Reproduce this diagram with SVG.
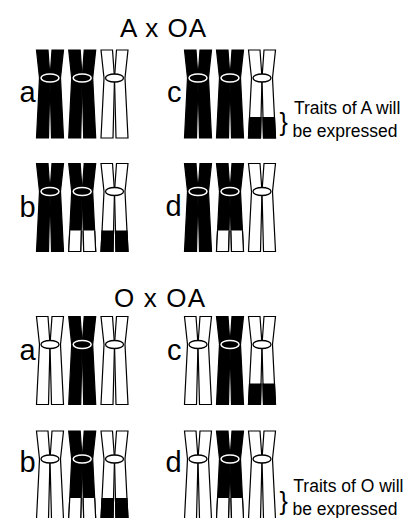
<svg xmlns="http://www.w3.org/2000/svg" xmlns:xlink="http://www.w3.org/1999/xlink" width="407" height="518" viewBox="0 0 407 518">
  <style>
    .k { fill: #000; stroke: #000; stroke-width: 1.2; stroke-linejoin: miter; }
    .w { fill: #fff; stroke: #000; stroke-width: 1.2; stroke-linejoin: miter; }
    .ek { fill: #000; stroke: #fff; stroke-width: 1.5; }
    .ew { fill: #fff; stroke: #000; stroke-width: 1.3; }
    .title { font-family: "Liberation Sans", Arial, sans-serif; font-size: 26px; fill: #000; }
    .lbl { font-family: "Liberation Sans", Arial, sans-serif; font-size: 29px; fill: #000; }
    .note { font-family: "Liberation Sans", Arial, sans-serif; font-size: 17.5px; fill: #000; }
    .brace { font-family: "Liberation Sans", Arial, sans-serif; font-size: 25px; fill: #000; }
  </style>
  <defs>
    <!-- one chromatid of each side; chromosome is 27 wide, 88 tall, centromere at y=28 -->
    <path id="ctL" d="M0,0 H11.5 L13.5,28 L12,88 H0 L3,28 Z"/>
    <path id="ctR" d="M15.5,0 H27 L24,28 L27,88 H15 L13.5,28 Z"/>
    <!-- lower band of the chromatids (differently coloured tip) -->
    <clipPath id="low"><rect x="-3" y="67" width="33" height="25"/></clipPath>
  </defs>

  <rect width="407" height="518" fill="#fff"/>

  <!-- ===== A x OA ===== -->
  <text class="title" x="120" y="37.3" textLength="86" lengthAdjust="spacing">A x OA</text>

  <g id="cross-a-a">
    <text class="lbl" x="19.5" y="101.7">a</text>
    <g transform="translate(36.5,50)"><use xlink:href="#ctL" class="k"/><use xlink:href="#ctR" class="k"/><ellipse cx="13.5" cy="28" rx="9" ry="4" class="ek"/></g>
    <g transform="translate(68.7,50)"><use xlink:href="#ctL" class="k"/><use xlink:href="#ctR" class="k"/><ellipse cx="13.5" cy="28" rx="9" ry="4" class="ek"/></g>
    <g transform="translate(101,50)"><use xlink:href="#ctL" class="w"/><use xlink:href="#ctR" class="w"/><ellipse cx="13.5" cy="28" rx="9" ry="4" class="ew"/></g>
  </g>

  <g id="cross-a-c">
    <text class="lbl" x="167" y="101.7">c</text>
    <g transform="translate(184.5,50)"><use xlink:href="#ctL" class="k"/><use xlink:href="#ctR" class="k"/><ellipse cx="13.5" cy="28" rx="9" ry="4" class="ek"/></g>
    <g transform="translate(216.5,50)"><use xlink:href="#ctL" class="k"/><use xlink:href="#ctR" class="k"/><ellipse cx="13.5" cy="28" rx="9" ry="4" class="ek"/></g>
    <g transform="translate(248.5,50)"><use xlink:href="#ctL" class="w"/><use xlink:href="#ctR" class="w"/><use xlink:href="#ctL" class="k" clip-path="url(#low)"/><use xlink:href="#ctR" class="k" clip-path="url(#low)"/><ellipse cx="13.5" cy="28" rx="9" ry="4" class="ew"/></g>
  </g>

  <g id="note-a">
    <text class="brace" x="279.5" y="130.5">}</text>
    <text class="note" x="294" y="114">Traits of A will</text>
    <text class="note" x="292.5" y="136.5">be expressed</text>
  </g>

  <g id="cross-a-b">
    <text class="lbl" x="19.5" y="216.5">b</text>
    <g transform="translate(36.5,163.5)"><use xlink:href="#ctL" class="k"/><use xlink:href="#ctR" class="k"/><ellipse cx="13.5" cy="28" rx="9" ry="4" class="ek"/></g>
    <g transform="translate(68.7,163.5)"><use xlink:href="#ctL" class="k"/><use xlink:href="#ctR" class="k"/><use xlink:href="#ctL" class="w" clip-path="url(#low)"/><use xlink:href="#ctR" class="w" clip-path="url(#low)"/><ellipse cx="13.5" cy="28" rx="9" ry="4" class="ek"/></g>
    <g transform="translate(101,163.5)"><use xlink:href="#ctL" class="w"/><use xlink:href="#ctR" class="w"/><use xlink:href="#ctL" class="k" clip-path="url(#low)"/><use xlink:href="#ctR" class="k" clip-path="url(#low)"/><ellipse cx="13.5" cy="28" rx="9" ry="4" class="ew"/></g>
  </g>

  <g id="cross-a-d">
    <text class="lbl" x="165.5" y="215.5">d</text>
    <g transform="translate(184.5,163.5)"><use xlink:href="#ctL" class="k"/><use xlink:href="#ctR" class="k"/><ellipse cx="13.5" cy="28" rx="9" ry="4" class="ek"/></g>
    <g transform="translate(216.5,163.5)"><use xlink:href="#ctL" class="k"/><use xlink:href="#ctR" class="k"/><use xlink:href="#ctL" class="w" clip-path="url(#low)"/><use xlink:href="#ctR" class="w" clip-path="url(#low)"/><ellipse cx="13.5" cy="28" rx="9" ry="4" class="ek"/></g>
    <g transform="translate(248.5,163.5)"><use xlink:href="#ctL" class="w"/><use xlink:href="#ctR" class="w"/><ellipse cx="13.5" cy="28" rx="9" ry="4" class="ew"/></g>
  </g>

  <!-- ===== O x OA ===== -->
  <text class="title" x="114" y="306.5" textLength="91" lengthAdjust="spacing">O x OA</text>

  <g id="cross-o-a">
    <text class="lbl" x="19.5" y="360">a</text>
    <g transform="translate(36.5,316.5)"><use xlink:href="#ctL" class="w"/><use xlink:href="#ctR" class="w"/><ellipse cx="13.5" cy="28" rx="9" ry="4" class="ew"/></g>
    <g transform="translate(68.7,316.5)"><use xlink:href="#ctL" class="k"/><use xlink:href="#ctR" class="k"/><ellipse cx="13.5" cy="28" rx="9" ry="4" class="ek"/></g>
    <g transform="translate(101,316.5)"><use xlink:href="#ctL" class="w"/><use xlink:href="#ctR" class="w"/><ellipse cx="13.5" cy="28" rx="9" ry="4" class="ew"/></g>
  </g>

  <g id="cross-o-c">
    <text class="lbl" x="167" y="360">c</text>
    <g transform="translate(184.5,316.5)"><use xlink:href="#ctL" class="w"/><use xlink:href="#ctR" class="w"/><ellipse cx="13.5" cy="28" rx="9" ry="4" class="ew"/></g>
    <g transform="translate(216.5,316.5)"><use xlink:href="#ctL" class="k"/><use xlink:href="#ctR" class="k"/><ellipse cx="13.5" cy="28" rx="9" ry="4" class="ek"/></g>
    <g transform="translate(248.5,316.5)"><use xlink:href="#ctL" class="w"/><use xlink:href="#ctR" class="w"/><use xlink:href="#ctL" class="k" clip-path="url(#low)"/><use xlink:href="#ctR" class="k" clip-path="url(#low)"/><ellipse cx="13.5" cy="28" rx="9" ry="4" class="ew"/></g>
  </g>

  <g id="cross-o-b">
    <text class="lbl" x="19.5" y="471.7">b</text>
    <g transform="translate(36.5,431)"><use xlink:href="#ctL" class="w"/><use xlink:href="#ctR" class="w"/><ellipse cx="13.5" cy="28" rx="9" ry="4" class="ew"/></g>
    <g transform="translate(68.7,431)"><use xlink:href="#ctL" class="k"/><use xlink:href="#ctR" class="k"/><use xlink:href="#ctL" class="w" clip-path="url(#low)"/><use xlink:href="#ctR" class="w" clip-path="url(#low)"/><ellipse cx="13.5" cy="28" rx="9" ry="4" class="ek"/></g>
    <g transform="translate(101,431)"><use xlink:href="#ctL" class="w"/><use xlink:href="#ctR" class="w"/><use xlink:href="#ctL" class="k" clip-path="url(#low)"/><use xlink:href="#ctR" class="k" clip-path="url(#low)"/><ellipse cx="13.5" cy="28" rx="9" ry="4" class="ew"/></g>
  </g>

  <g id="cross-o-d">
    <text class="lbl" x="165.5" y="471.7">d</text>
    <g transform="translate(184.5,431)"><use xlink:href="#ctL" class="w"/><use xlink:href="#ctR" class="w"/><ellipse cx="13.5" cy="28" rx="9" ry="4" class="ew"/></g>
    <g transform="translate(216.5,431)"><use xlink:href="#ctL" class="k"/><use xlink:href="#ctR" class="k"/><use xlink:href="#ctL" class="w" clip-path="url(#low)"/><use xlink:href="#ctR" class="w" clip-path="url(#low)"/><ellipse cx="13.5" cy="28" rx="9" ry="4" class="ek"/></g>
    <g transform="translate(248.5,431)"><use xlink:href="#ctL" class="w"/><use xlink:href="#ctR" class="w"/><ellipse cx="13.5" cy="28" rx="9" ry="4" class="ew"/></g>
  </g>

  <g id="note-o">
    <text class="brace" x="279.5" y="510">}</text>
    <text class="note" x="293.3" y="492.3">Traits of O will</text>
    <text class="note" x="292.5" y="514.5">be expressed</text>
  </g>
</svg>
